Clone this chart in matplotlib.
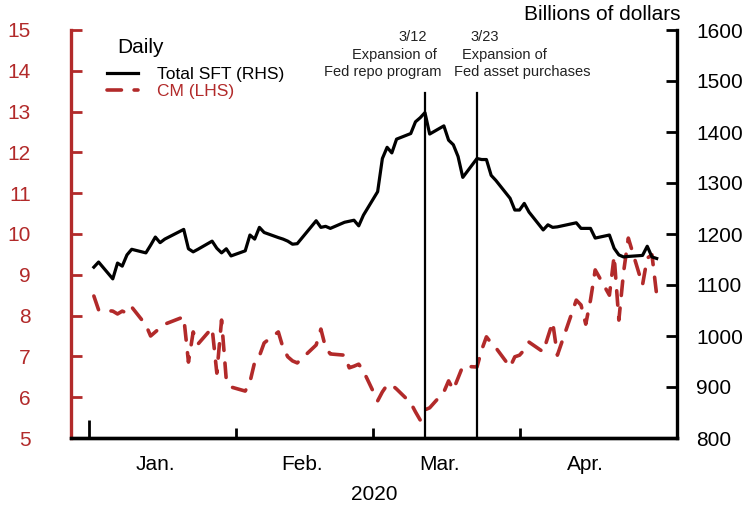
import numpy as np
import pandas as pd
import matplotlib
matplotlib.use("Agg")
from matplotlib import pyplot as plt
import matplotlib.dates as mdates

plt.rcParams['font.family'] = ['Liberation Sans', 'DejaVu Sans']

RED = '#B22A2A'

# Business days Jan 2 - Apr 30 2020, market holidays dropped
holidays = ['2020-01-20', '2020-02-17', '2020-04-10']
dates = pd.bdate_range('2020-01-02', '2020-04-30')
dates = dates[~dates.isin(pd.to_datetime(holidays))]

# Total SFT, billions of dollars (right axis)
sft = [1135, 1145, 1112, 1143, 1137, 1159, 1170, 1163, 1178, 1194, 1183, 1190, 1209, 1171, 1165, 1170, 1186, 1172, 1163, 1171, 1157,
       1167, 1198, 1190, 1213, 1203, 1193, 1190, 1186, 1180, 1181, 1226, 1213, 1215, 1211, 1223, 1225, 1227, 1216, 1237,
       1283, 1348, 1370, 1359, 1386, 1397, 1420, 1428, 1438, 1396, 1412, 1384, 1375, 1352, 1311, 1348, 1346, 1346, 1315, 1305, 1270, 1247,
       1247, 1260, 1243, 1208, 1218, 1213, 1214, 1222, 1211, 1211, 1211, 1192, 1198, 1172, 1159, 1155, 1156, 1158, 1176, 1155, 1152]

# CM (left axis)
cm = [8.48, 8.14, 8.11, 8.04, 8.11, 8.06, 8.21, 7.77, 7.50, 7.60, 7.70, 7.79, 7.97, 6.86, 7.60, 7.30, 7.70, 6.59, 7.89, 6.42, 6.25,
      6.15, 6.37, 6.86, 7.01, 7.33, 7.60, 7.21, 6.99, 6.89, 6.84, 7.28, 7.67, 7.21, 7.06, 7.03, 6.72, 6.76, 6.81, 6.64,
      5.91, 6.13, 6.30, 6.30, 6.20, 5.86, 5.64, 5.44, 5.69, 5.74, 6.13, 6.40, 6.18, 6.47, 6.76, 6.74, 7.16, 7.48, 7.33, 7.21, 6.74, 6.99,
      7.03, 7.16, 7.35, 7.11, 7.48, 7.84, 7.03, 8.38, 8.26, 7.79, 8.38, 9.12, 8.50, 9.46, 7.89, 9.07, 9.90, 8.75, 9.41, 9.49, 8.50]

events = ['2020-03-12', '2020-03-23']
month_starts = ['2020-01-01', '2020-02-01', '2020-03-01', '2020-04-01']
month_mids = ['2020-01-15', '2020-02-15', '2020-03-15', '2020-04-15']
month_labels = ['Jan.', 'Feb.', 'Mar.', 'Apr.']

fig = plt.figure(figsize=(7.46, 5.08), dpi=100)
ax = fig.add_axes([71/746, 1-438/508, (677-71)/746, 408/508])
ax2 = ax.twinx()

l_cm, = ax.plot(dates, cm, color=RED, lw=2.6, linestyle=(0, (4, 3.5)), dash_capstyle='round')
l_sft, = ax2.plot(dates, sft, color='black', lw=2.3)

for d in events:
	ax.axvline(pd.Timestamp(d), ymin=0, ymax=0.846, color='black', lw=1.6)

ax.set_xlim(pd.Timestamp('2019-12-28 04:00'), pd.Timestamp('2020-05-04 07:00'))
ax.set_ylim(5, 15)
ax2.set_ylim(800, 1600)
ax.set_yticks(range(5, 16))
ax2.set_yticks(range(800, 1601, 100))

# spines
for s in ['top', 'right']:
	ax.spines[s].set_visible(False)
for s in ['top', 'left']:
	ax2.spines[s].set_visible(False)
ax.spines['left'].set_color(RED)
ax.spines['left'].set_linewidth(2.4)
ax.spines['bottom'].set_linewidth(2.4)
ax2.spines['bottom'].set_linewidth(2.4)
ax2.spines['right'].set_linewidth(2.4)

ax.tick_params(axis='y', direction='in', length=8, width=2, color=RED,
	labelcolor=RED, labelsize=15, pad=29)
ax2.tick_params(axis='y', direction='in', length=8, width=2, labelsize=15, pad=14)

ax.set_xticks(pd.to_datetime(month_starts))
ax.set_xticklabels([])
ax.set_xticks(pd.to_datetime(month_mids), minor=True)
ax.set_xticklabels(month_labels, minor=True)
ax.tick_params(axis='x', which='major', direction='in', length=7, width=2)
ax.tick_params(axis='x', which='minor', length=0, labelsize=15, pad=12)
ax.xaxis.get_major_ticks()[0].tick1line.set_markersize(13)
ax.set_xlabel('2020', fontsize=15, labelpad=8)

# annotations
fig.text(413/746, 1-37/508, '3/12', ha='center', va='center', fontsize=10.5, color='#222222')
fig.text(394.5/746, 1-55/508, 'Expansion of', ha='center', va='center', fontsize=10.5, color='#222222')
fig.text(382.5/746, 1-72/508, 'Fed repo program', ha='center', va='center', fontsize=10.5, color='#222222')
fig.text(485/746, 1-37/508, '3/23', ha='center', va='center', fontsize=10.5, color='#222222')
fig.text(504.7/746, 1-55/508, 'Expansion of', ha='center', va='center', fontsize=10.5, color='#222222')
fig.text(522/746, 1-72/508, 'Fed asset purchases', ha='center', va='center', fontsize=10.5, color='#222222')

fig.text(680/746, 1-15/508, 'Billions of dollars', ha='right', va='center', fontsize=15)
fig.text(117/746, 1-47/508, 'Daily', ha='left', va='center', fontsize=15)

leg = ax2.legend([l_sft, l_cm], ['Total SFT (RHS)', 'CM (LHS)'], loc='upper left',
	bbox_to_anchor=(107/746, 1-67/508), bbox_transform=fig.transFigure,
	frameon=False, borderpad=0, borderaxespad=0, handlelength=1.8,
	handletextpad=1.1, labelspacing=0.1, fontsize=12.5)
leg.get_texts()[1].set_color(RED)

fig.savefig('out.png', dpi=100)
